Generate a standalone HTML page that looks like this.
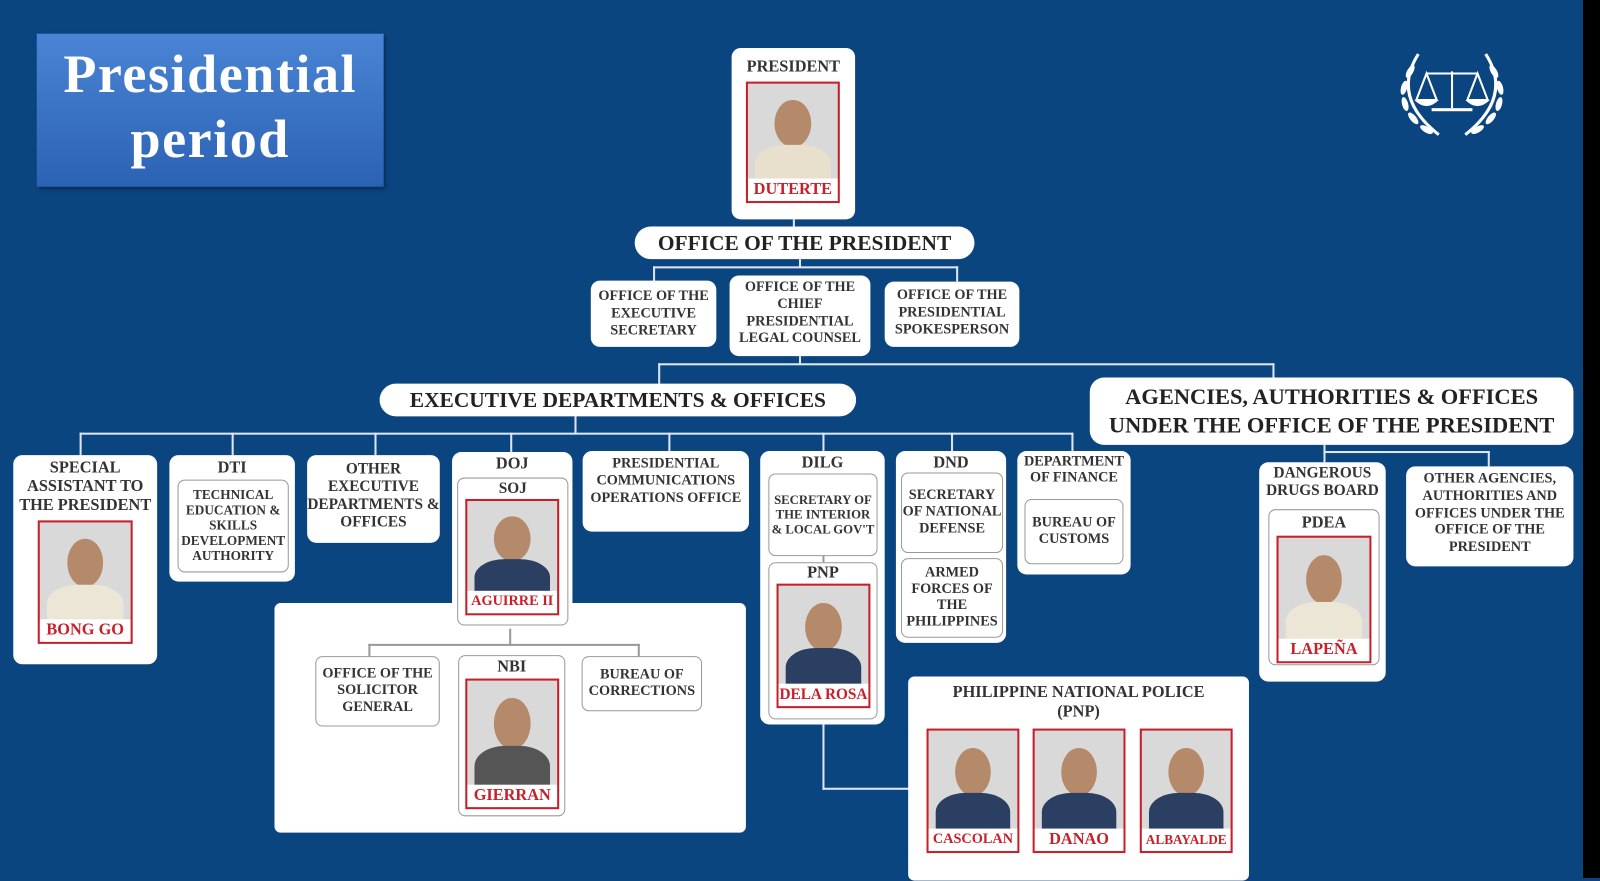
<!DOCTYPE html>
<html><head><meta charset="utf-8"><style>
*{margin:0;padding:0;box-sizing:border-box}
body{width:1600px;height:878px;background:#0b4580;position:relative;overflow:hidden;font-family:"Liberation Serif",serif;font-weight:bold;color:#333}
#w{position:absolute;left:0;top:0;width:1568px;height:860px;transform:scale(1.0204);transform-origin:0 0}
.a{position:absolute}
.b{position:absolute;background:#fff;border-radius:9px;text-align:center;line-height:1.2}
.i{position:absolute;background:#fff;border:1.5px solid #999;border-radius:7px;text-align:center;line-height:1.15;display:flex;align-items:center;justify-content:center;flex-direction:column}
.l{position:absolute;background:#dde6f0}
.ph{position:absolute;border:2px solid #c8202a;background:#d9d9d9;overflow:hidden}
.ph .hd{position:absolute;left:30%;width:40%;top:14%;height:40%;border-radius:50%;background:#b58a6a}
.ph .bd{position:absolute;left:8%;width:84%;top:52%;height:40%;border-radius:40% 40% 0 0;background:#2b3f63}
.ph .nm{position:absolute;left:0;right:0;bottom:0;height:22px;background:#fff;color:#c8202a;font-size:16px;line-height:22px;text-align:center;white-space:nowrap}
.pill{position:absolute;background:#fff;border-radius:16px;text-align:center;color:#222}
</style></head><body>
<div id="w">
<div class="a" style="left:36px;top:33px;width:340px;height:150px;background:linear-gradient(#4a84d4,#2c62b4);color:#fff;text-align:center;font-size:53px;letter-spacing:1.5px;line-height:64px;padding-top:8px;box-shadow:2px 2px 4px rgba(0,0,0,.4)">Presidential<br>period</div>
<svg class="a" style="left:1368px;top:50px" width="110" height="90" viewBox="0 0 110 90"><g fill="none" stroke="#fff" stroke-width="3"><path d="M22 3 Q-5 45 42 82"/><path d="M88 3 Q115 45 68 82"/></g>
<g fill="#fff"><ellipse cx="14" cy="20" rx="3" ry="7" transform="rotate(30 14 20)"/><ellipse cx="8" cy="36" rx="3" ry="7" transform="rotate(15 8 36)"/><ellipse cx="9" cy="52" rx="3" ry="7" transform="rotate(-15 9 52)"/><ellipse cx="17" cy="66" rx="3" ry="7" transform="rotate(-40 17 66)"/><ellipse cx="30" cy="77" rx="3" ry="7" transform="rotate(-60 30 77)"/>
<ellipse cx="96" cy="20" rx="3" ry="7" transform="rotate(-30 96 20)"/><ellipse cx="102" cy="36" rx="3" ry="7" transform="rotate(-15 102 36)"/><ellipse cx="101" cy="52" rx="3" ry="7" transform="rotate(15 101 52)"/><ellipse cx="93" cy="66" rx="3" ry="7" transform="rotate(40 93 66)"/><ellipse cx="80" cy="77" rx="3" ry="7" transform="rotate(60 80 77)"/></g>
<g fill="none" stroke="#fff" stroke-width="2"><line x1="55" y1="20" x2="55" y2="56"/><line x1="30" y1="22" x2="80" y2="22"/><path d="M20 48 L30 22 L40 48 Z"/><path d="M70 48 L80 22 L90 48 Z"/></g><rect x="35" y="56" width="40" height="3" fill="#fff"/><path d="M18 48 Q30 60 42 48 Z M68 48 Q80 60 92 48 Z" fill="#fff"/></svg>

<div class="l" style="left:777px;top:215px;width:2px;height:8px"></div>
<div class="l" style="left:783px;top:254px;width:2px;height:8px"></div>
<div class="l" style="left:640px;top:261px;width:299px;height:2px"></div>
<div class="l" style="left:640px;top:261px;width:2px;height:15px"></div>
<div class="l" style="left:937px;top:261px;width:2px;height:15px"></div>
<div class="l" style="left:783px;top:349px;width:2px;height:8px"></div>
<div class="l" style="left:645px;top:356px;width:604px;height:2px"></div>
<div class="l" style="left:645px;top:356px;width:2px;height:20px"></div>
<div class="l" style="left:1247px;top:356px;width:2px;height:14px"></div>
<div class="l" style="left:563px;top:408px;width:2px;height:17px"></div>
<div class="l" style="left:78px;top:424px;width:974px;height:2px"></div>
<div class="l" style="left:78px;top:424px;width:2px;height:22px"></div>
<div class="l" style="left:227px;top:424px;width:2px;height:22px"></div>
<div class="l" style="left:367px;top:424px;width:2px;height:22px"></div>
<div class="l" style="left:500px;top:424px;width:2px;height:19px"></div>
<div class="l" style="left:655px;top:424px;width:2px;height:18px"></div>
<div class="l" style="left:806px;top:424px;width:2px;height:18px"></div>
<div class="l" style="left:932px;top:424px;width:2px;height:18px"></div>
<div class="l" style="left:1050px;top:424px;width:2px;height:18px"></div>
<div class="l" style="left:1297px;top:436px;width:2px;height:7px"></div>
<div class="l" style="left:1297px;top:442px;width:163px;height:2px"></div>
<div class="l" style="left:1297px;top:442px;width:2px;height:11px"></div>
<div class="l" style="left:1458px;top:442px;width:2px;height:15px"></div>
<div class="l" style="left:806px;top:710px;width:2px;height:64px"></div>
<div class="l" style="left:806px;top:772px;width:85px;height:2px"></div>

<div class="b" style="left:717px;top:47px;width:121px;height:168px;font-size:16px;padding-top:9px">PRESIDENT</div>
<div class="ph" style="left:731px;top:80px;width:92px;height:119px"><div class="hd"></div><div class="bd" style="background:#e8e0cc"></div><div class="nm">DUTERTE</div></div>
<div class="pill" style="left:622px;top:222px;width:333px;height:32px;font-size:21px;line-height:33px">OFFICE OF THE PRESIDENT</div>
<div class="b" style="left:579px;top:275px;width:123px;height:65px;font-size:14px;padding-top:8px">OFFICE OF THE EXECUTIVE SECRETARY</div>
<div class="b" style="left:715px;top:270px;width:138px;height:79px;font-size:14px;padding-top:4px">OFFICE OF THE CHIEF PRESIDENTIAL LEGAL COUNSEL</div>
<div class="b" style="left:867px;top:276px;width:132px;height:64px;font-size:14px;padding-top:6px">OFFICE OF THE PRESIDENTIAL SPOKESPERSON</div>
<div class="pill" style="left:372px;top:376px;width:467px;height:32px;font-size:21px;line-height:33px">EXECUTIVE DEPARTMENTS &amp; OFFICES</div>
<div class="pill" style="left:1068px;top:370px;width:474px;height:66px;font-size:22px;line-height:28px;padding-top:5px;border-radius:14px">AGENCIES, AUTHORITIES &amp; OFFICES UNDER THE OFFICE OF THE PRESIDENT</div>

<div class="b" style="left:13px;top:446px;width:141px;height:205px;font-size:16px;padding-top:4px;line-height:1.15">SPECIAL ASSISTANT TO THE PRESIDENT</div>
<div class="ph" style="left:37px;top:510px;width:93px;height:121px"><div class="hd"></div><div class="bd" style="background:#ece6d6"></div><div class="nm">BONG GO</div></div>
<div class="b" style="left:166px;top:446px;width:123px;height:124px;font-size:16px;padding-top:3px">DTI</div>
<div class="i" style="left:174px;top:470px;width:109px;height:91px;font-size:13px">TECHNICAL EDUCATION &amp; SKILLS DEVELOPMENT AUTHORITY</div>
<div class="b" style="left:301px;top:446px;width:130px;height:86px;font-size:15px;padding-top:6px;line-height:1.15">OTHER EXECUTIVE DEPARTMENTS &amp; OFFICES</div>

<div class="b" style="left:269px;top:591px;width:462px;height:225px;border-radius:6px"></div>
<div class="l" style="left:499px;top:616px;width:2px;height:17px;background:#999"></div>
<div class="l" style="left:361px;top:631px;width:266px;height:2px;background:#999"></div>
<div class="l" style="left:361px;top:631px;width:2px;height:12px;background:#999"></div>
<div class="l" style="left:625px;top:631px;width:2px;height:12px;background:#999"></div>
<div class="b" style="left:443px;top:443px;width:118px;height:173px;font-size:16px;padding-top:2px">DOJ</div>
<div class="i" style="left:448px;top:468px;width:109px;height:145px;font-size:15px;justify-content:flex-start;padding-top:2px">SOJ</div>
<div class="ph" style="left:456px;top:489px;width:92px;height:114px"><div class="hd"></div><div class="bd"></div><div class="nm" style="font-size:14px">AGUIRRE II</div></div>
<div class="i" style="left:309px;top:643px;width:122px;height:69px;font-size:14px">OFFICE OF THE SOLICITOR GENERAL</div>
<div class="i" style="left:449px;top:642px;width:105px;height:158px;font-size:16px;justify-content:flex-start;padding-top:2px">NBI</div>
<div class="ph" style="left:456px;top:665px;width:92px;height:128px"><div class="hd"></div><div class="bd" style="background:#555"></div><div class="nm">GIERRAN</div></div>
<div class="i" style="left:570px;top:643px;width:118px;height:54px;font-size:14px">BUREAU OF CORRECTIONS</div>

<div class="b" style="left:571px;top:442px;width:163px;height:79px;font-size:14px;padding-top:5px">PRESIDENTIAL COMMUNICATIONS OPERATIONS OFFICE</div>

<div class="b" style="left:745px;top:442px;width:122px;height:268px;font-size:16px;padding-top:2px">DILG</div>
<div class="i" style="left:753px;top:464px;width:107px;height:81px;font-size:12.5px">SECRETARY OF THE INTERIOR &amp; LOCAL GOV'T</div>
<div class="l" style="left:806px;top:545px;width:2px;height:6px;background:#999"></div>
<div class="i" style="left:753px;top:551px;width:107px;height:154px;font-size:16px;justify-content:flex-start;padding-top:1px">PNP</div>
<div class="ph" style="left:761px;top:572px;width:92px;height:122px"><div class="hd"></div><div class="bd"></div><div class="nm" style="font-size:15px">DELA ROSA</div></div>

<div class="b" style="left:878px;top:442px;width:108px;height:188px;font-size:16px;padding-top:2px">DND</div>
<div class="i" style="left:883px;top:463px;width:100px;height:79px;font-size:14px">SECRETARY OF NATIONAL DEFENSE</div>
<div class="i" style="left:883px;top:547px;width:100px;height:78px;font-size:14px">ARMED FORCES OF THE PHILIPPINES</div>

<div class="b" style="left:997px;top:442px;width:111px;height:121px;font-size:14px;padding-top:3px;line-height:1.15">DEPARTMENT OF FINANCE</div>
<div class="i" style="left:1004px;top:489px;width:97px;height:64px;font-size:14px">BUREAU OF CUSTOMS</div>

<div class="b" style="left:890px;top:663px;width:334px;height:200px;font-size:16px;padding-top:6px;line-height:1.2;border-radius:6px">PHILIPPINE NATIONAL POLICE<br>(PNP)</div>
<div class="ph" style="left:908px;top:714px;width:91px;height:122px"><div class="hd"></div><div class="bd"></div><div class="nm" style="font-size:14px">CASCOLAN</div></div>
<div class="ph" style="left:1012px;top:714px;width:91px;height:122px"><div class="hd"></div><div class="bd"></div><div class="nm">DANAO</div></div>
<div class="ph" style="left:1117px;top:714px;width:91px;height:122px"><div class="hd"></div><div class="bd"></div><div class="nm" style="font-size:13px">ALBAYALDE</div></div>

<div class="b" style="left:1234px;top:453px;width:124px;height:215px;font-size:15px;padding-top:3px;line-height:1.15">DANGEROUS DRUGS BOARD</div>
<div class="i" style="left:1243px;top:499px;width:109px;height:153px;font-size:16px;justify-content:flex-start;padding-top:4px">PDEA</div>
<div class="ph" style="left:1251px;top:525px;width:93px;height:125px"><div class="hd"></div><div class="bd" style="background:#ece6d6"></div><div class="nm">LAPEÑA</div></div>
<div class="b" style="left:1378px;top:457px;width:164px;height:98px;font-size:14px;padding-top:5px">OTHER AGENCIES, AUTHORITIES AND OFFICES UNDER THE OFFICE OF THE PRESIDENT</div>
</div>
<div class="a" style="left:1583px;top:0;width:17px;height:878px;background:#000"></div>
</body></html>
